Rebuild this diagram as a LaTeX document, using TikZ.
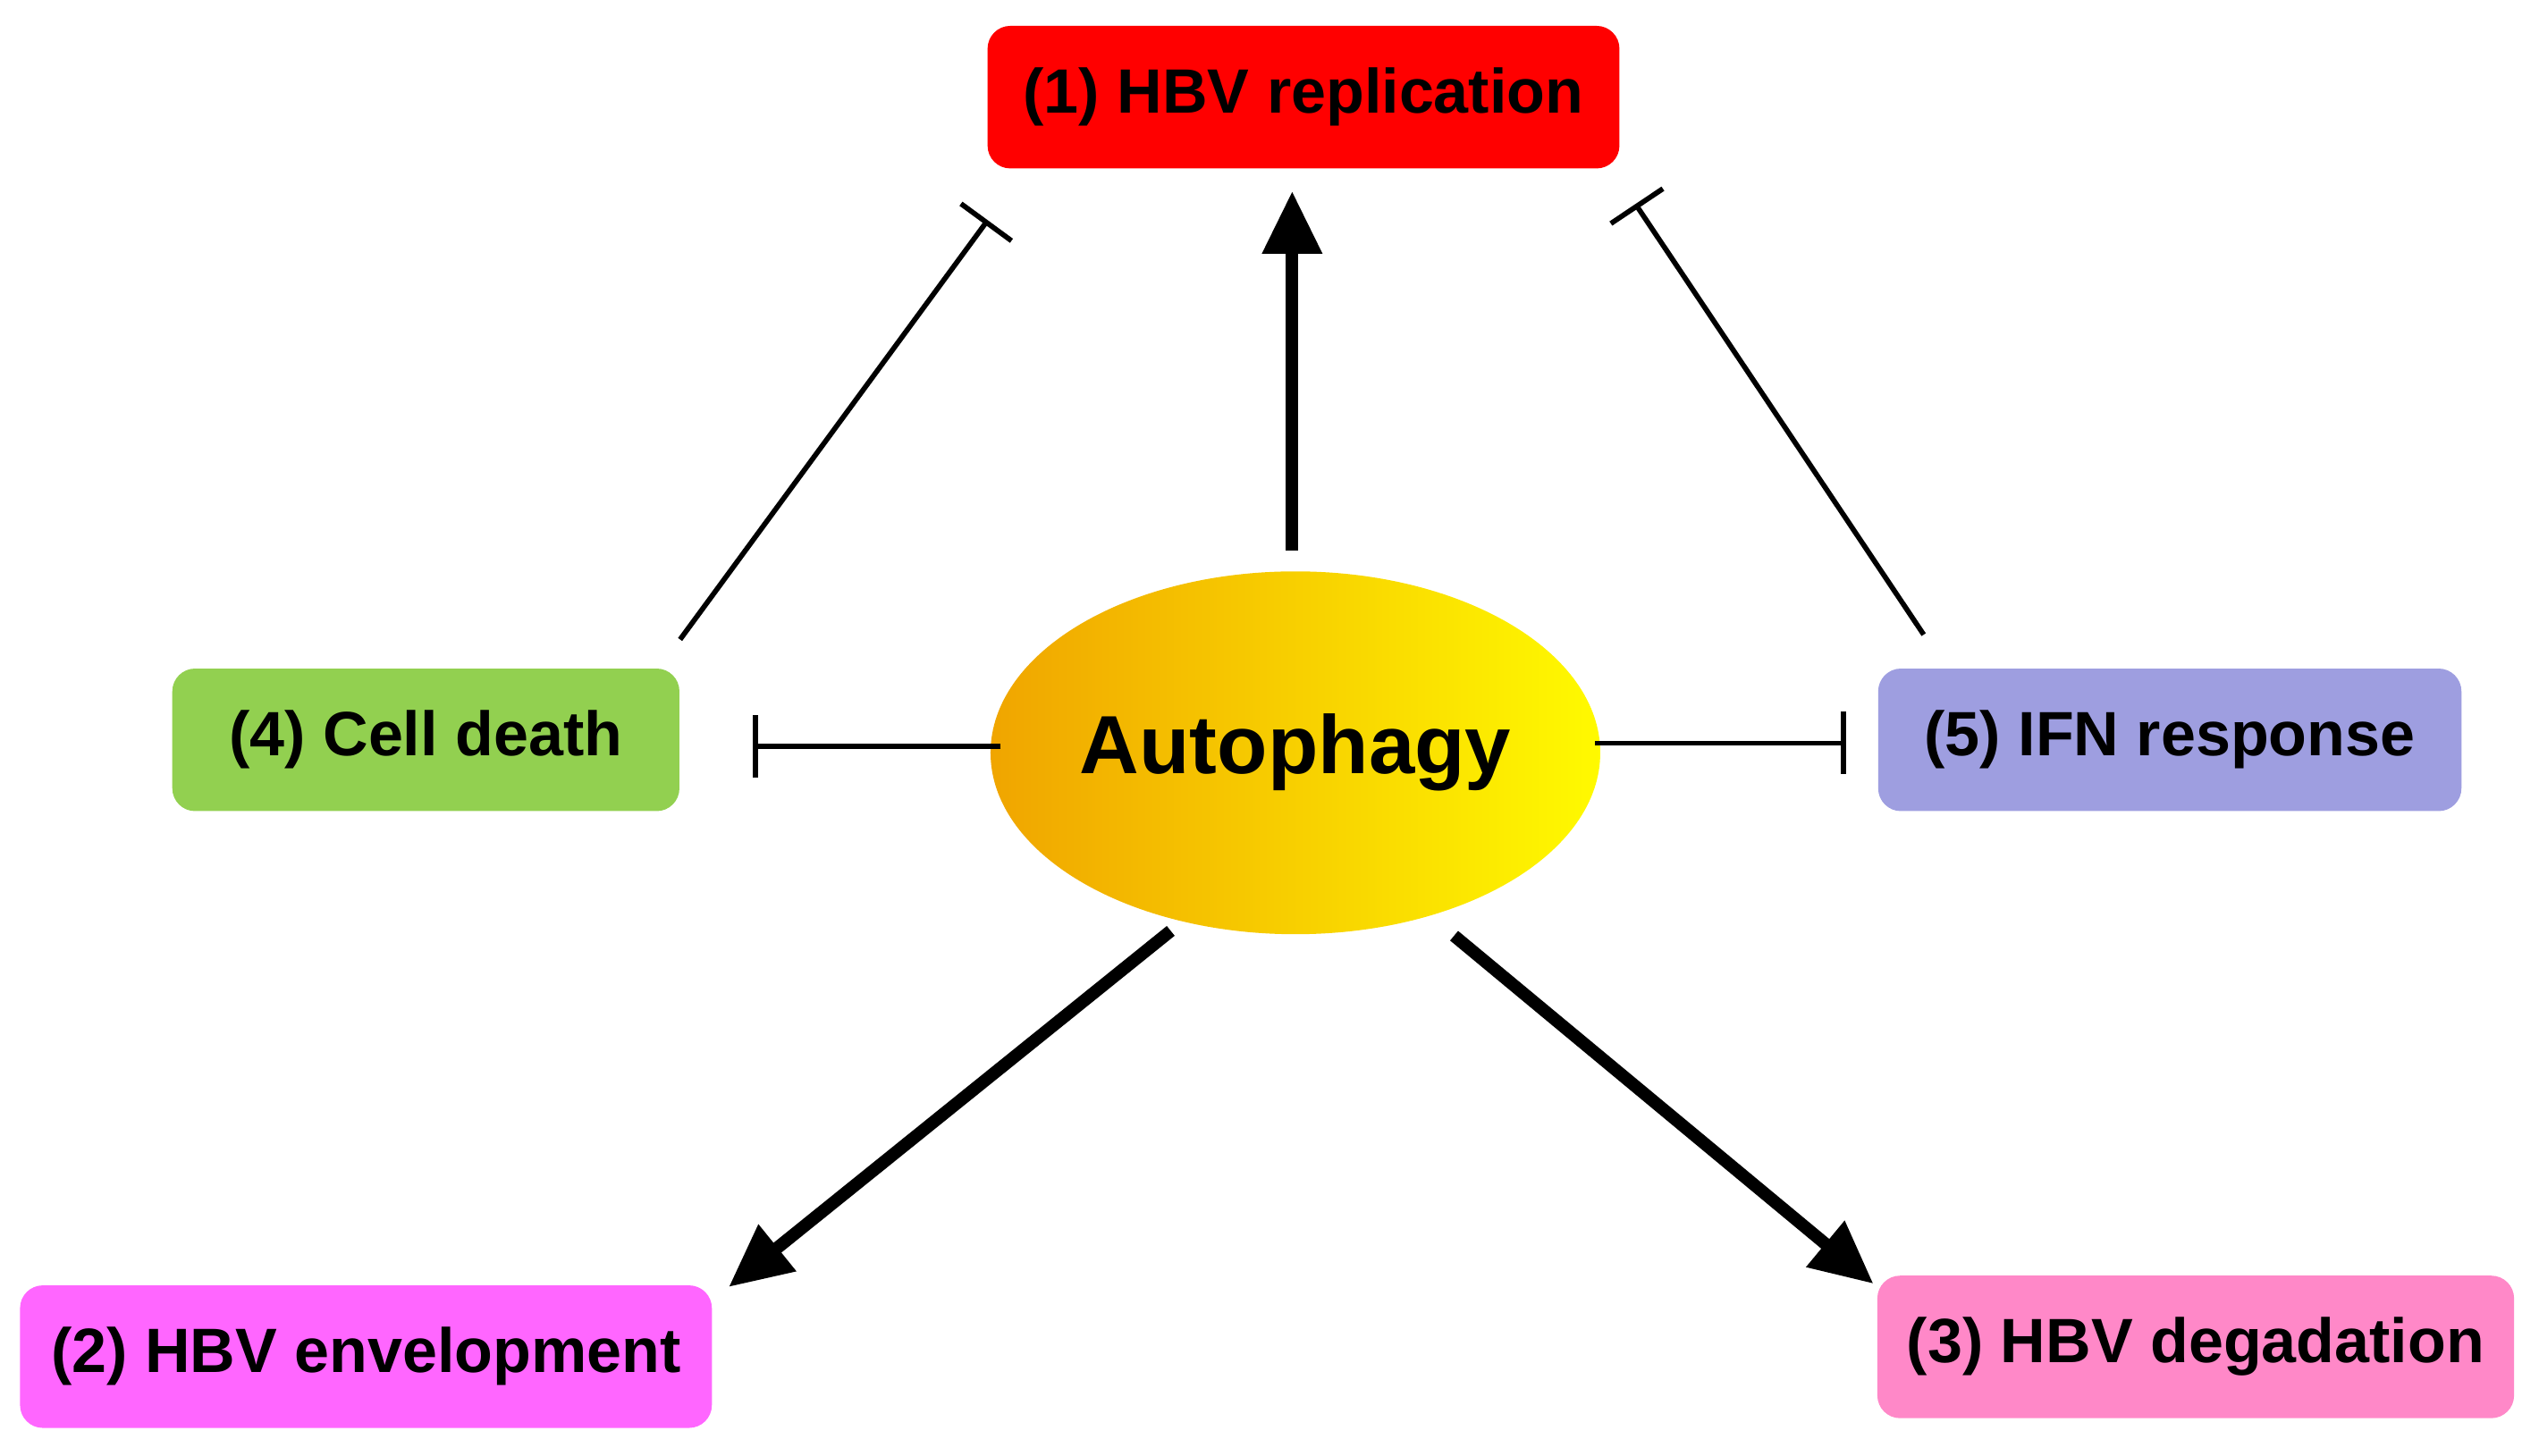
\documentclass[tikz,border=0pt]{standalone}
\usepackage{fontspec}
\setmainfont{Liberation Sans}
\usetikzlibrary{arrows.meta, positioning, shapes.geometric}
\definecolor{repred}{RGB}{255,0,0}
\definecolor{deathgreen}{RGB}{146,208,80}
\definecolor{ifnblue}{RGB}{158,158,224}
\definecolor{envpink}{RGB}{255,102,255}
\definecolor{degpink}{RGB}{255,136,200}
\definecolor{autoorange}{RGB}{240,165,0}
\definecolor{autoyellow}{RGB}{255,250,0}
\tikzset{
	box/.style={rectangle, rounded corners=4pt, inner sep=0pt, minimum height=0.88cm, font=\bfseries\fontsize{11}{13}\selectfont},
	promote/.style={-{Triangle[length=11pt,width=10pt]}, line width=2.2pt},
	inhibit/.style={-{Bar[width=11pt]}, line width=0.9pt},
}
\begin{document}
\begin{tikzpicture}[x=0.01cm, y=-0.01cm]
	\useasboundingbox (0,0) rectangle (1568,899);

	\node (replication) [box, fill=repred, minimum width=3.9cm] at (805,60) {(1) HBV replication};
	\node (death) [box, fill=deathgreen, minimum width=3.13cm] at (263,457) {(4) Cell death};
	\node (ifn) [box, fill=ifnblue, minimum width=3.6cm] at (1340,457) {(5) IFN response};
	\node (envelop) [box, fill=envpink, minimum width=4.27cm] at (226,838) {(2) HBV envelopment};
	\node (degrade) [box, fill=degpink, minimum width=3.93cm] at (1356,832) {(3) HBV degadation};
	\node (autophagy) [ellipse, inner sep=0pt, minimum width=3.36cm, minimum height=2.24cm, left color=autoorange, right color=autoyellow, font=\bfseries\fontsize{14.5}{16}\selectfont] at (800,465) {Autophagy};

	% end points of the connectors
	\coordinate (up-s) at (798,340);
	\coordinate (up-e) at (798,118);
	\coordinate (dl-s) at (723,575);
	\coordinate (dl-e) at (450,795);
	\coordinate (dr-s) at (898,578);
	\coordinate (dr-e) at (1157,793);
	\coordinate (al-s) at (618,461);
	\coordinate (al-e) at (465,461);
	\coordinate (ar-s) at (985,459);
	\coordinate (ar-e) at (1140,459);
	\coordinate (cd-s) at (420,395);
	\coordinate (cd-e) at (610,136);
	\coordinate (if-s) at (1188,392);
	\coordinate (if-e) at (1010,126);

	\draw[promote] (up-s) -- (up-e);
	\draw[promote] (dl-s) -- (dl-e);
	\draw[promote] (dr-s) -- (dr-e);
	\draw[inhibit] (al-s) -- (al-e);
	\draw[inhibit] (ar-s) -- (ar-e);
	\draw[inhibit] (cd-s) -- (cd-e);
	\draw[inhibit] (if-s) -- (if-e);
\end{tikzpicture}
\end{document}
